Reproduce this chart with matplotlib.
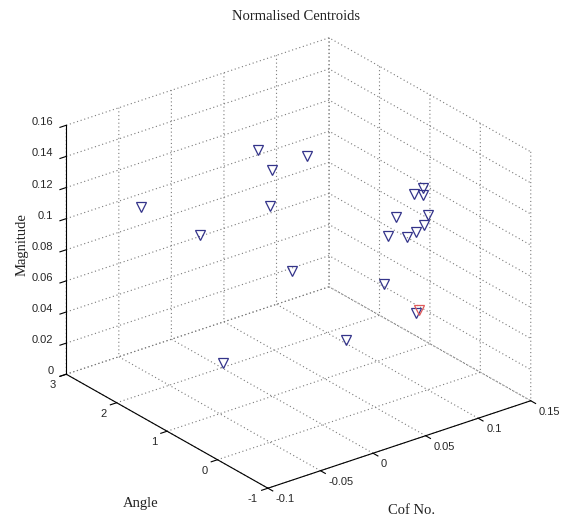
import matplotlib
matplotlib.use('Agg')
import matplotlib.pyplot as plt
import numpy as np
from mpl_toolkits.mplot3d import proj3d

# ---- data ----
cof_blue = [-0.053, 0.010, 0.033, 0.024, 0.022, -0.021, 0.019, -0.047, 0.046, 0.082,
            0.089, 0.119, 0.111, 0.119, 0.124, 0.094, 0.120, 0.113, 0.104, 0.086]
angle_blue = [2.5, 1.5, 1.0, 1.5, 1.5, 2.0, 1.0, 1.0, 0.5, 0.5,
              0.0, 0.5, 0.5, 0.5, 0.5, 0.5, 0.5, 0.5, 0.5, 0.5]
mag_blue = [0.106, 0.147, 0.147, 0.131, 0.108, 0.090, 0.076, 0.032, 0.035, 0.063,
            0.052, 0.116, 0.114, 0.112, 0.098, 0.103, 0.092, 0.089, 0.088, 0.093]
cof_red = [0.092]
angle_red = [0.0]
mag_red = [0.053]

x_ticks = [-0.1, -0.05, 0, 0.05, 0.1, 0.15]
x_ticklabels = ['-0.1', '-0.05', '0', '0.05', '0.1', '0.15']
y_ticks = [-1, 0, 1, 2, 3]
y_ticklabels = ['-1', '0', '1', '2', '3']
z_ticks = [0, 0.02, 0.04, 0.06, 0.08, 0.10, 0.12, 0.14, 0.16]
z_ticklabels = ['0', '0.02', '0.04', '0.06', '0.08', '0.1', '0.12', '0.14', '0.16']

W, H = 573, 522
fig = plt.figure(figsize=(W / 100, H / 100), dpi=100)
fig.patch.set_facecolor('white')
ax = fig.add_axes([0.1, 0.1, 0.8, 0.8], projection='3d', proj_type='ortho')
ax.view_init(elev=25.7, azim=-127.5)
ax.set_box_aspect((1, 1, 0.834))

ax.plot(cof_blue, angle_blue, mag_blue, linestyle='none', marker='v', markersize=6.8,
        markerfacecolor='none', markeredgecolor='#34348a', markeredgewidth=0.9)
ax.plot(cof_red, angle_red, mag_red, linestyle='none', marker='v', markersize=6.8,
        markerfacecolor='none', markeredgecolor='#e05a5a', markeredgewidth=0.9)

ax.set_xlim(x_ticks[0], x_ticks[-1])
ax.set_ylim(y_ticks[0], y_ticks[-1])
ax.set_zlim(z_ticks[0], z_ticks[-1])
ax.set_xticks(x_ticks)
ax.set_yticks(y_ticks)
ax.set_zticks(z_ticks)
# tick labels are drawn below as plain text next to the projected tick positions
ax.set_xticklabels([])
ax.set_yticklabels([])
ax.set_zticklabels([])

for axis in (ax.xaxis, ax.yaxis, ax.zaxis):
    axis.pane.fill = False
    axis.pane.set_edgecolor((1, 1, 1, 0))
    axis.line.set_color('black')
    axis.line.set_linewidth(0.8)
    axis._axinfo['grid'].update({'color': '#7a7a7a', 'linewidth': 0.8,
                                 'linestyle': (0, (1, 2.4))})
    axis._axinfo['tick']['inward_factor'] = 0.3
    axis._axinfo['tick']['outward_factor'] = 0.0
    axis._axinfo['tick']['linewidth'] = {True: 0.8, False: 0.5}
    axis._axinfo['tick']['color'] = 'black'
ax.grid(True)

def project(xs, ys, zs):
    X, Y, _z = proj3d.proj_transform(np.asarray(xs, float), np.asarray(ys, float),
                                     np.asarray(zs, float), ax.M)
    return ax.transData.transform(np.column_stack([X, Y]))

# ---- fit the projected box into the layout of the reference ----
corners = np.array([[-0.1, -1, 0], [0.15, 3, 0.16], [-0.1, 3, 0], [0.15, -1, 0]])
target = np.array([[268, H - 488], [330, H - 41], [64, H - 372], [532, H - 400]], float)
for _ in range(3):
    fig.canvas.draw()
    px = project(corners[:, 0], corners[:, 1], corners[:, 2])
    bb = ax.get_position().transformed(fig.transFigure)
    cen = np.array([(bb.x0 + bb.x1) / 2, (bb.y0 + bb.y1) / 2])
    side = min(bb.width, bb.height)
    span_c = np.array([px[3, 0] - px[2, 0], px[1, 1] - px[0, 1]])
    span_t = np.array([target[3, 0] - target[2, 0], target[1, 1] - target[0, 1]])
    f = np.mean(span_t / span_c)
    new_cen = target.mean(axis=0) - f * (px.mean(axis=0) - cen)
    new_side = side * f
    ax.set_position([(new_cen[0] - new_side / 2) / W, (new_cen[1] - new_side / 2) / H,
                     new_side / W, new_side / H])
fig.canvas.draw()

tick_font = dict(family='Liberation Sans', size=8, color='#262626')
xs_ = project(x_ticks, [y_ticks[0]] * len(x_ticks), [z_ticks[0]] * len(x_ticks))
for (px_, py_), lab in zip(xs_, x_ticklabels):
    fig.text((px_ + 8) / W, (py_ - 11) / H, lab, ha='left', va='center', **tick_font)
ys_ = project([x_ticks[0]] * len(y_ticks), y_ticks, [z_ticks[0]] * len(y_ticks))
for (px_, py_), lab in zip(ys_, y_ticklabels):
    fig.text((px_ - 10) / W, (py_ - 11) / H, lab, ha='right', va='center', **tick_font)
zs_ = project([x_ticks[0]] * len(z_ticks), [y_ticks[-1]] * len(z_ticks), z_ticks)
for (px_, py_), lab in zip(zs_, z_ticklabels):
    fig.text((px_ - 13) / W, (py_ + 3) / H, lab, ha='right', va='center', **tick_font)

label_font = dict(family='Liberation Serif', size=10.5, color='#222222')
fig.text(296 / W, 1 - 16 / H, 'Normalised Centroids', ha='center', va='center', **label_font)
fig.text(22 / W, 1 - 245 / H, 'Magnitude', ha='center', va='center', rotation=90, **label_font)
fig.text(141 / W, 1 - 503 / H, 'Angle', ha='center', va='center', **label_font)
fig.text(412 / W, 1 - 510 / H, 'Cof No.', ha='center', va='center', **label_font)

fig.savefig('out.png', dpi=100, facecolor='white')
